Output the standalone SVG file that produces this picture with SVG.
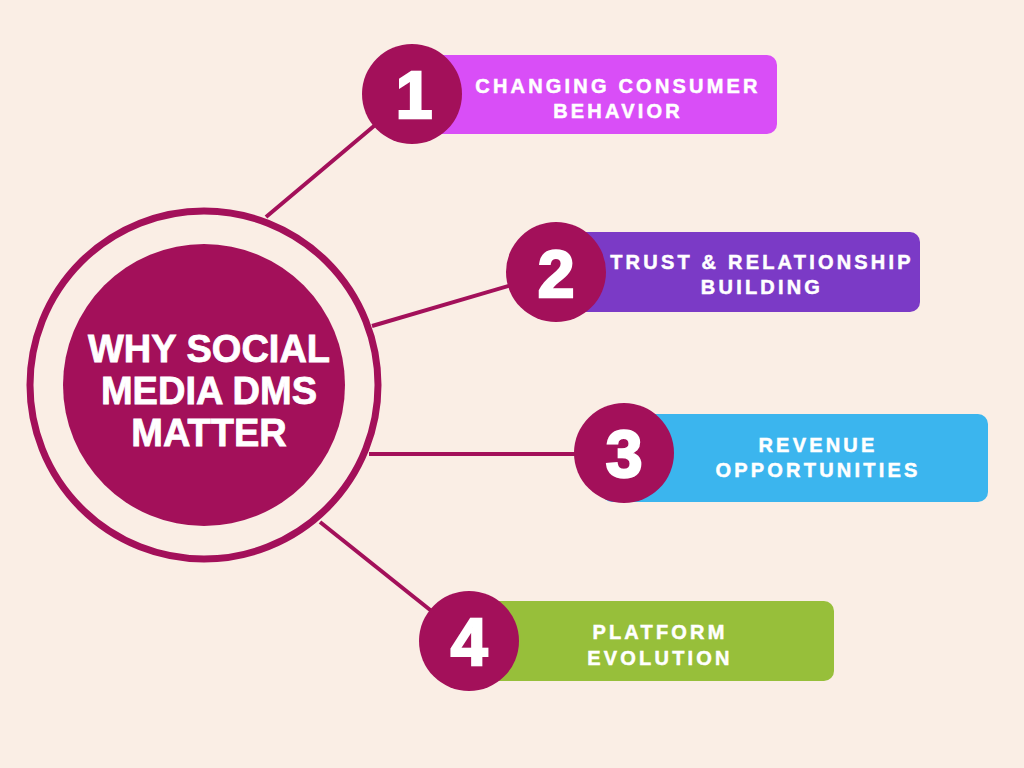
<svg xmlns="http://www.w3.org/2000/svg" width="1024" height="768" viewBox="0 0 1024 768">
<style>
.bg{fill:#FAEEE5}
.conn{stroke:#A3105A;stroke-width:4;fill:none}
.ring{fill:none;stroke:#A3105A;stroke-width:7}
.dot{fill:#A3105A}
.title{font-family:"Liberation Sans",Arial,sans-serif;font-weight:bold;font-size:38px;fill:#FFFFFF;stroke:#FFFFFF;stroke-width:0.8;text-anchor:middle}
.num{font-family:"Liberation Sans",Arial,sans-serif;font-weight:bold;font-size:66px;fill:#FFFFFF;stroke:#FFFFFF;stroke-width:2.5;text-anchor:middle}
.lbl{font-family:"Liberation Sans",Arial,sans-serif;font-weight:bold;font-size:20px;fill:#FFFFFF;stroke:#FFFFFF;stroke-width:0.5;text-anchor:middle;letter-spacing:3.2px}
</style>
<rect class="bg" x="0" y="0" width="1024" height="768"/>
<g id="connectors">
<line class="conn" x1="266" y1="217" x2="412" y2="94"/>
<line class="conn" x1="372" y1="326" x2="556" y2="272"/>
<line class="conn" x1="369" y1="454" x2="624" y2="454"/>
<line class="conn" x1="320" y1="522" x2="469" y2="641"/>
</g>
<g id="center">
<circle class="ring" cx="204" cy="385" r="174"/>
<circle class="dot" cx="204" cy="385" r="141"/>
<text class="title" x="209" y="362">WHY SOCIAL</text>
<text class="title" x="209" y="404">MEDIA DMS</text>
<text class="title" x="209" y="446">MATTER</text>
</g>
<g id="item1">
<rect x="412" y="55" width="365" height="79" rx="10" fill="#D94EF7"/>
<circle class="dot" cx="412" cy="94" r="50"/>
<text class="num" x="414" y="118">1</text>
<text class="lbl" x="618" y="93">CHANGING CONSUMER</text>
<text class="lbl" x="618" y="118">BEHAVIOR</text>
</g>
<g id="item2">
<rect x="556" y="232" width="364" height="80" rx="10" fill="#7B3AC6"/>
<circle class="dot" cx="556" cy="272" r="50"/>
<text class="num" x="556" y="297">2</text>
<text class="lbl" x="762" y="269">TRUST &amp; RELATIONSHIP</text>
<text class="lbl" x="762" y="294">BUILDING</text>
</g>
<g id="item3">
<rect x="602" y="414" width="386" height="88" rx="10" fill="#3BB5EE"/>
<circle class="dot" cx="624" cy="453" r="50"/>
<text class="num" x="624" y="477">3</text>
<text class="lbl" x="818" y="452">REVENUE</text>
<text class="lbl" x="818" y="477">OPPORTUNITIES</text>
</g>
<g id="item4">
<rect x="470" y="601" width="364" height="80" rx="10" fill="#97BF3A"/>
<circle class="dot" cx="469" cy="641" r="50"/>
<text class="num" x="469" y="665">4</text>
<text class="lbl" x="660" y="639">PLATFORM</text>
<text class="lbl" x="660" y="665">EVOLUTION</text>
</g>
</svg>
